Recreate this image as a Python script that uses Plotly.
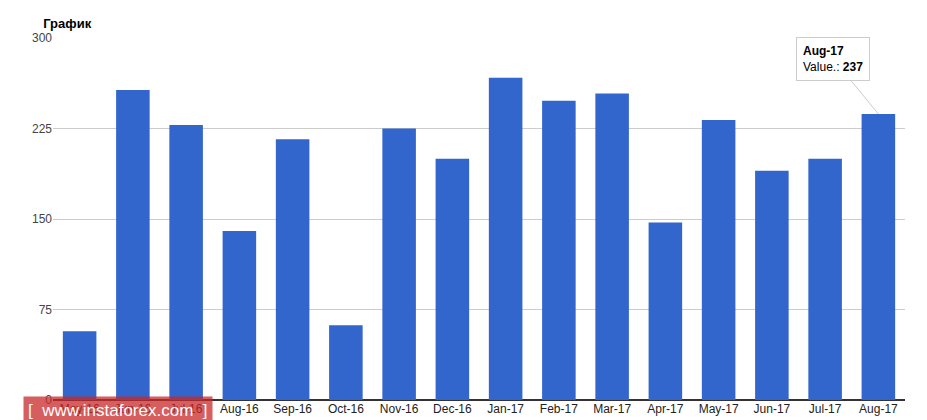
import plotly.graph_objects as go

months = ["May-16","Jun-16","Jul-16","Aug-16","Sep-16","Oct-16","Nov-16","Dec-16",
          "Jan-17","Feb-17","Mar-17","Apr-17","May-17","Jun-17","Jul-17","Aug-17"]
values = [57, 257, 228, 140, 216, 62, 225, 200, 267, 248, 254, 147, 232, 190, 200, 237]
yticks = [0, 75, 150, 225, 300]

fig = go.Figure(go.Bar(x=months, y=values, marker_color="#3366cc", marker_line_width=0))
fig.update_layout(
    width=927, height=420, margin=dict(l=45, r=30, t=30, b=25),
    plot_bgcolor="white", paper_bgcolor="white", bargap=0.37, showlegend=False,
    font=dict(family="Arial, Liberation Sans", size=12, color="#444"),
    title=dict(text="<b>График</b>", x=0.038, y=0.975, xanchor="left",
               font=dict(size=13, color="#000")),
)
fig.update_yaxes(range=[0, 300], tickvals=yticks, gridcolor="#cccccc",
                 zeroline=True, zerolinecolor="#333", ticks="", tickfont=dict(color="#444"))
fig.update_xaxes(ticks="", tickfont=dict(color="#222"), showline=False)
fig.add_annotation(x=months[-1], y=values[-1], ax=-45, ay=-55, showarrow=True,
                   arrowcolor="#ccc", arrowhead=0, arrowwidth=1,
                   text="<b>Aug-17</b><br>Value.: <b>237</b>", align="left",
                   bgcolor="white", bordercolor="#ccc", borderwidth=1, borderpad=6,
                   font=dict(size=12, color="#000"))
fig.add_annotation(xref="paper", yref="paper", x=-0.035, y=-0.07, xanchor="left", yanchor="bottom",
                   showarrow=False, text="[  www.instaforex.com  ]",
                   bgcolor="rgba(200,40,40,0.75)", borderpad=4,
                   font=dict(size=17, color="white"))
fig.write_html("out.html")
